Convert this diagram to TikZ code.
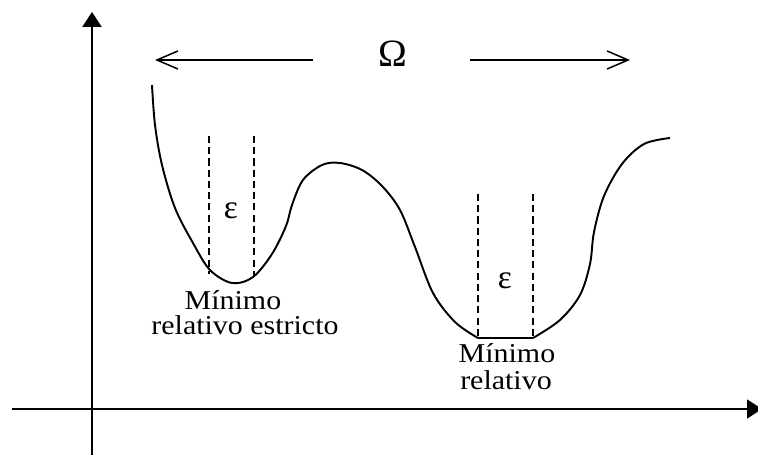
\documentclass[tikz,border=0pt]{standalone}
\usepackage{fontspec}
\setmainfont{Liberation Serif}
\newfontfamily\labelfont[FakeStretch=1.1]{Liberation Serif}
\usetikzlibrary{arrows.meta,positioning}

\begin{document}
\begin{tikzpicture}[
  x=0.02cm,y=-0.02cm,
  line cap=butt,line join=round,
  txt/.style={font=\labelfont\fontsize{15.5}{15.5}\selectfont,inner sep=0pt},
  sym/.style={font=\fontsize{19}{19}\selectfont,inner sep=0pt},
  axis/.style={draw=black,-{Triangle[length=3mm,width=3.8mm]}},
  span/.style={draw=black,line width=.85pt,-{Straight Barb[length=4.2mm,width=3.6mm]}},
  band/.style={draw=black,line width=1.1pt,dash pattern=on 4pt off 2.4pt},
  curve/.style={draw=black,line width=1.1pt}
]
\useasboundingbox (0,0) rectangle (758,455);

% axes
\coordinate (orig) at (92,409);
\coordinate (ybot) at (92,460);
\coordinate (ytop) at (92,12);
\coordinate (xleft) at (12,409);
\coordinate (xright) at (762,409);
\draw[axis,line width=1.5pt] (ybot)--(ytop);
\draw[axis,line width=1pt] (xleft)--(xright);

% the set Omega
\node[sym,font=\fontsize{22}{22}\selectfont] (omega) at (393,54) {Ω};
\coordinate (omL0) at (313,60);
\coordinate (omL1) at (155,60);
\coordinate (omR0) at (470,60);
\coordinate (omR1) at (630,60);
\draw[span] (omL0)--(omL1);
\draw[span] (omR0)--(omR1);

% the function
\draw[curve] plot[smooth,tension=.55] coordinates {
  (152,85) (155,125) (162,165) (175,208) (193,243) (210,270) (232,283)
  (253,277) (272,254) (286,226) (292,205) (303,180) (322,165) (340,163)
  (362,170) (382,186) (400,210) (415,247) (433,293) (455,322) (478,338)};
\draw[curve] (478,338)--(533,338);
\draw[curve] plot[smooth,tension=.55] coordinates {
  (533,338) (560,320) (580,295) (590,264) (594,232) (604,196)
  (622,164) (644,144) (670,138)};

% epsilon bands
\coordinate (a1) at (209,136);
\coordinate (a2) at (209,274);
\coordinate (b1) at (254,136);
\coordinate (b2) at (254,276);
\draw[band] (a1)--(a2);
\draw[band] (b1)--(b2);
\node[sym] (epsA) at (231,211) {ε};

\coordinate (c1) at (478,194);
\coordinate (c2) at (478,338);
\coordinate (d1) at (533,194);
\coordinate (d2) at (533,338);
\draw[band] (c1)--(c2);
\draw[band] (d1)--(d2);
\node[sym] (epsB) at (505,281) {ε};

% labels
\node[txt,anchor=base] (minA) at (233,310) {Mínimo};
\node[txt,anchor=base] (minAb) at (245,335) {relativo estricto};
\node[txt,anchor=base] (minB) at (507,363) {Mínimo};
\node[txt,anchor=base] (minBb) at (506,390) {relativo};

\end{tikzpicture}
\end{document}
